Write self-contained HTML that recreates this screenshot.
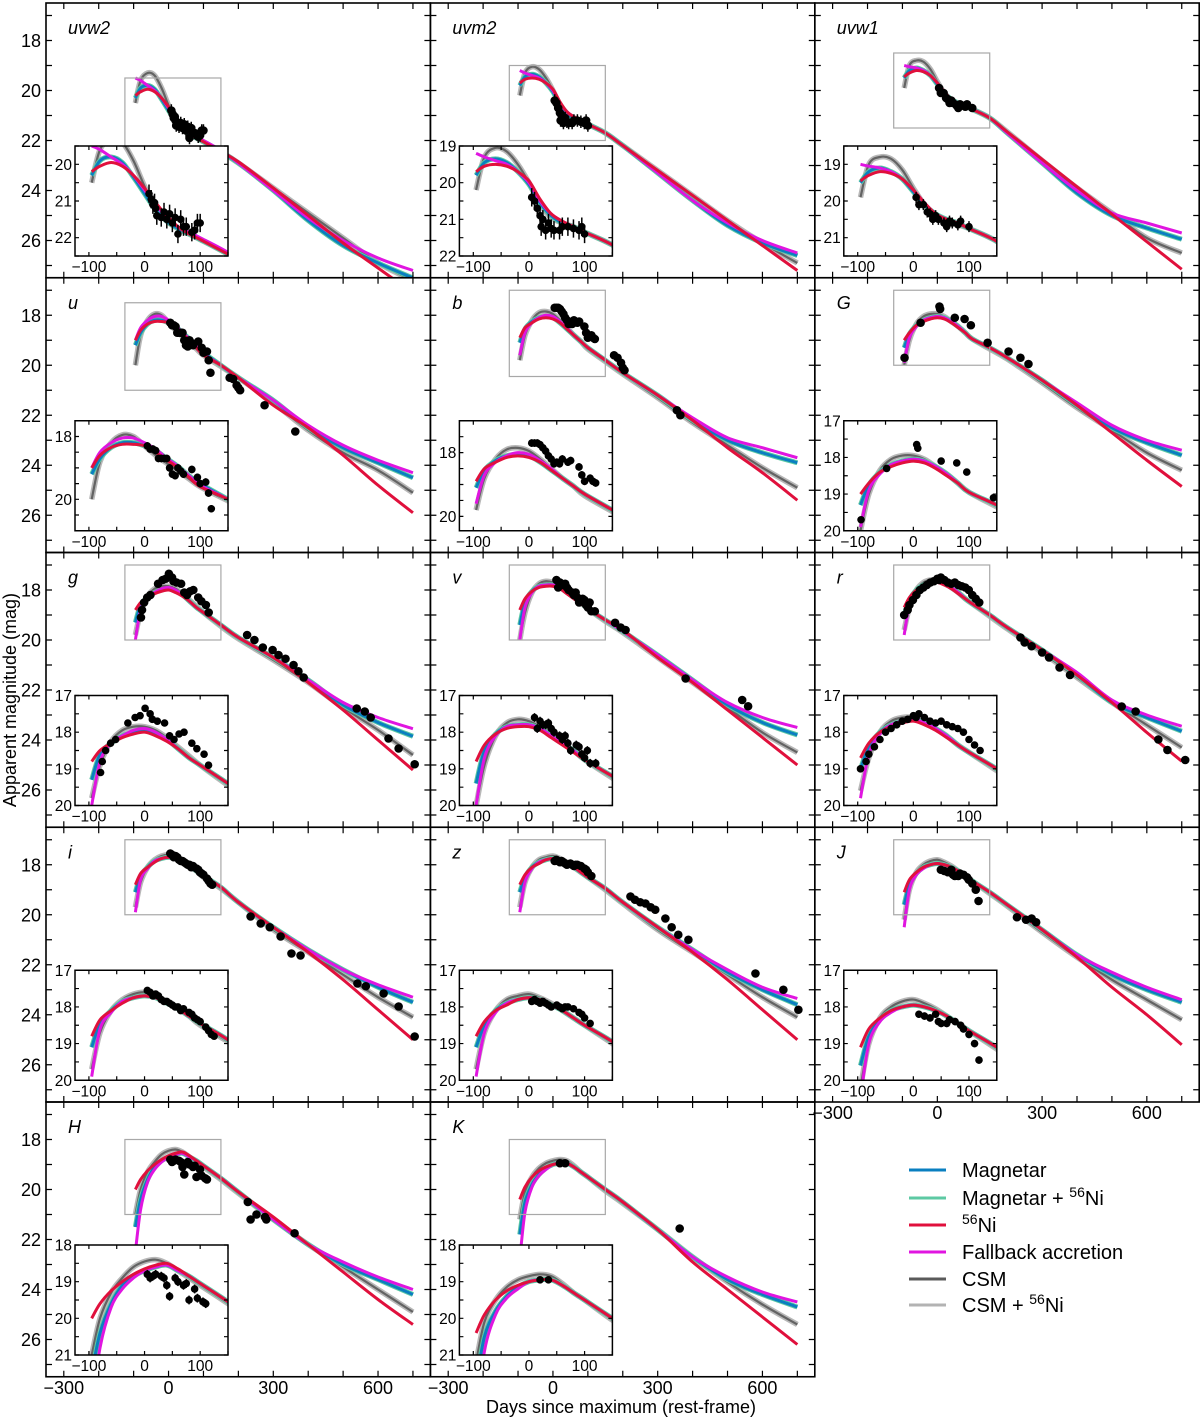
<!DOCTYPE html>
<html><head><meta charset="utf-8"><style>
html,body{margin:0;padding:0;background:#fff;overflow:hidden;width:1200px;height:1418px;}
svg{display:block;font-family:"Liberation Sans","DejaVu Sans",sans-serif;}
</style></head><body>
<svg id="fig" width="1200" height="1418" viewBox="0 0 1200 1418" xmlns="http://www.w3.org/2000/svg" overflow="hidden">
<defs id="defs"></defs>
<g id="panels"></g>
<text x="0" y="0" transform="translate(16,700) rotate(-90)" text-anchor="middle" font-size="18">Apparent magnitude (mag)</text>
<text x="621" y="1413" text-anchor="middle" font-size="18">Days since maximum (rest-frame)</text>
<g font-size="20">
<g><line x1="909" y1="1170" x2="946" y2="1170" stroke="#0a7fc0" stroke-width="3"/><text x="962" y="1177">Magnetar</text></g>
<g><line x1="909" y1="1198" x2="946" y2="1198" stroke="#5dc9a3" stroke-width="3"/><text x="962" y="1205">Magnetar + <tspan font-size="14" dy="-8">56</tspan><tspan dy="8">Ni</tspan></text></g>
<g><line x1="909" y1="1225" x2="946" y2="1225" stroke="#e0103c" stroke-width="3"/><text x="962" y="1232"><tspan font-size="14" dy="-8">56</tspan><tspan dy="8">Ni</tspan></text></g>
<g><line x1="909" y1="1252" x2="946" y2="1252" stroke="#e015e0" stroke-width="3"/><text x="962" y="1259">Fallback accretion</text></g>
<g><line x1="909" y1="1279" x2="946" y2="1279" stroke="#5a5a5a" stroke-width="3"/><text x="962" y="1286">CSM</text></g>
<g><line x1="909" y1="1305" x2="946" y2="1305" stroke="#b3b3b3" stroke-width="3"/><text x="962" y="1312">CSM + <tspan font-size="14" dy="-8">56</tspan><tspan dy="8">Ni</tspan></text></g>
</g>
</svg>
<script>
const DAYS = [-95,-80,-60,-40,-20,0,20,40,60,80,100,150,200,300,400,500,600,700];
const BANDS = ['uvw2','uvm2','uvw1','u','b','G','g','v','r','i','z','J','H','K'];
const INSET_Y = {uvw2:[19.5,22.5],uvm2:[19,22],uvw1:[18.5,21.5],u:[17.5,21],b:[17,20.45],G:[17,20],g:[17,20],v:[17,20],r:[17,20],i:[17,20],z:[17,20],J:[17,20],H:[18,21],K:[18,21]};
const INSET_TICKS = {uvw2:[20,21,22],uvm2:[19,20,21,22],uvw1:[19,20,21],u:[18,20],b:[18,20],G:[17,18,19,20],g:[17,18,19,20],v:[17,18,19,20],r:[17,18,19,20],i:[17,18,19,20],z:[17,18,19,20],J:[17,18,19,20],H:[18,19,20,21],K:[18,19,20,21]};
const MAIN_Y_TICKS = [18,20,22,24,26];
const MAIN_X_TICKS = [-300,0,300,600];
const INSET_X_TICKS = [-100,0,100];
const NI = {
uvw2:[20.2,20.05,19.95,20.05,20.3,20.65,21.05,21.4,21.7,21.9,22.05,22.45,22.85,23.9,25.0,26.1,27.1,28.1],
uvm2:[19.7,19.55,19.5,19.55,19.7,19.95,20.45,20.85,21.05,21.2,21.35,21.7,22.2,23.2,24.2,25.2,26.2,27.2],
uvw1:[19.45,19.3,19.2,19.25,19.4,19.7,20.05,20.35,20.5,20.6,20.75,21.1,21.65,22.75,23.85,24.95,26.05,27.15],
u:[19.0,18.6,18.35,18.25,18.25,18.3,18.5,18.75,19.0,19.3,19.6,20.0,20.5,21.6,22.5,23.6,24.8,25.9],
b:[18.9,18.5,18.3,18.15,18.1,18.15,18.3,18.55,18.8,19.05,19.3,19.8,20.3,21.2,22.2,23.3,24.3,25.4],
G:[19.0,18.7,18.4,18.25,18.15,18.1,18.15,18.3,18.5,18.7,18.95,19.3,19.7,20.6,21.6,22.7,23.8,24.85],
g:[18.8,18.5,18.3,18.15,18.05,18.0,18.1,18.25,18.45,18.7,18.9,19.4,19.9,20.7,21.7,22.8,24.0,25.2],
v:[18.8,18.35,18.05,17.9,17.85,17.85,17.95,18.15,18.35,18.55,18.75,19.2,19.6,20.7,21.7,22.8,23.9,25.0],
r:[18.7,18.3,18.0,17.85,17.75,17.7,17.8,17.95,18.15,18.35,18.55,19.0,19.5,20.4,21.4,22.5,23.7,24.85],
i:[18.8,18.35,18.1,17.9,17.75,17.7,17.75,17.9,18.05,18.25,18.45,18.9,19.5,20.5,21.5,22.6,23.8,25.0],
z:[18.8,18.4,18.1,17.95,17.8,17.75,17.8,17.95,18.1,18.3,18.5,18.95,19.5,20.5,21.5,22.6,23.8,25.0],
J:[19.1,18.6,18.3,18.1,18.0,17.95,18.0,18.1,18.25,18.45,18.65,19.1,19.6,20.6,21.7,22.9,24.0,25.2],
H:[20.0,19.6,19.25,19.0,18.8,18.65,18.55,18.5,18.65,18.85,19.05,19.55,20.1,21.1,22.2,23.3,24.4,25.4],
K:[20.4,19.9,19.5,19.25,19.1,19.0,18.95,18.95,19.1,19.3,19.5,20.0,20.5,21.6,22.9,24.0,25.1,26.2]};
const MAG = {
uvw2:[20.3,19.9,19.8,19.95,20.35,20.8,21.25,21.55,21.75,21.9,22.05,22.45,22.9,24.0,25.2,26.2,26.9,27.5],
uvm2:[19.8,19.45,19.35,19.45,19.7,20.05,20.55,20.9,21.1,21.2,21.35,21.7,22.2,23.3,24.4,25.4,26.1,26.6],
uvw1:[19.5,19.2,19.1,19.2,19.4,19.75,20.1,20.35,20.5,20.6,20.75,21.1,21.7,22.9,24.1,25.0,25.5,25.95],
u:[19.2,18.7,18.35,18.2,18.2,18.3,18.45,18.7,18.95,19.25,19.5,20.0,20.5,21.4,22.5,23.3,23.9,24.5],
b:[19.1,18.55,18.25,18.1,18.05,18.1,18.3,18.55,18.8,19.05,19.3,19.8,20.3,21.2,22.2,23.0,23.5,23.9],
G:[19.3,18.75,18.4,18.2,18.1,18.05,18.1,18.25,18.45,18.7,18.95,19.3,19.7,20.6,21.6,22.5,23.1,23.6],
g:[19.3,18.6,18.3,18.1,18.0,17.95,18.05,18.2,18.45,18.7,18.9,19.4,19.9,20.7,21.6,22.6,23.3,23.85],
v:[19.4,18.5,18.05,17.85,17.8,17.8,17.9,18.1,18.3,18.5,18.75,19.2,19.65,20.6,21.6,22.6,23.3,23.8],
r:[19.0,18.4,18.0,17.8,17.7,17.65,17.75,17.9,18.1,18.35,18.55,19.0,19.5,20.4,21.4,22.5,23.1,23.65],
i:[19.1,18.45,18.1,17.85,17.75,17.7,17.75,17.9,18.05,18.25,18.45,18.9,19.5,20.5,21.4,22.2,22.9,23.5],
z:[19.1,18.5,18.1,17.9,17.8,17.75,17.8,17.95,18.1,18.3,18.5,18.95,19.5,20.5,21.4,22.3,23.0,23.6],
J:[19.6,18.8,18.35,18.1,18.0,17.95,18.0,18.1,18.25,18.45,18.65,19.1,19.6,20.6,21.6,22.4,23.0,23.5],
H:[21.5,20.4,19.6,19.1,18.85,18.7,18.6,18.55,18.7,18.85,19.05,19.55,20.1,21.2,22.2,23.0,23.6,24.2],
K:[21.8,20.5,19.8,19.4,19.15,19.0,18.95,18.95,19.1,19.3,19.5,20.0,20.5,21.6,22.7,23.6,24.2,24.7]};
const FB = {
uvw2:[19.5,19.6,19.8,20.0,20.3,20.7,21.1,21.45,21.7,21.85,22.0,22.4,22.9,24.0,25.1,26.0,26.7,27.2],
uvm2:[19.2,19.3,19.4,19.5,19.7,20.0,20.5,20.85,21.05,21.2,21.35,21.7,22.2,23.3,24.4,25.3,26.0,26.5],
uvw1:[19.0,19.05,19.1,19.2,19.4,19.7,20.05,20.35,20.5,20.6,20.75,21.1,21.7,22.9,24.0,24.9,25.3,25.7],
u:[19.0,18.5,18.2,18.05,18.05,18.2,18.4,18.7,18.95,19.25,19.55,20.0,20.5,21.4,22.4,23.2,23.8,24.3],
b:[19.6,18.7,18.3,18.1,18.0,18.05,18.25,18.5,18.8,19.05,19.3,19.8,20.3,21.2,22.1,22.9,23.3,23.7],
G:[19.9,18.9,18.45,18.2,18.1,18.05,18.1,18.25,18.45,18.7,18.95,19.3,19.7,20.6,21.5,22.4,23.0,23.4],
g:[20.0,18.8,18.3,18.1,17.95,17.9,18.0,18.2,18.45,18.7,18.9,19.4,19.9,20.7,21.6,22.5,23.1,23.55],
v:[20.0,18.7,18.1,17.85,17.8,17.8,17.9,18.1,18.3,18.5,18.75,19.2,19.65,20.6,21.6,22.5,23.1,23.5],
r:[19.8,18.6,18.05,17.8,17.7,17.65,17.75,17.9,18.1,18.35,18.55,19.0,19.5,20.4,21.3,22.4,23.0,23.45],
i:[19.9,18.6,18.15,17.85,17.75,17.7,17.75,17.9,18.05,18.25,18.45,18.9,19.5,20.5,21.4,22.2,22.8,23.3],
z:[19.9,18.7,18.15,17.9,17.8,17.75,17.8,17.95,18.1,18.3,18.5,18.95,19.5,20.5,21.4,22.2,22.9,23.35],
J:[20.5,19.0,18.4,18.15,18.0,17.95,18.0,18.1,18.25,18.45,18.65,19.1,19.6,20.6,21.6,22.3,22.9,23.4],
H:[22.5,20.8,19.7,19.2,18.9,18.7,18.6,18.55,18.7,18.85,19.05,19.55,20.1,21.2,22.2,22.9,23.5,24.0],
K:[22.8,20.9,19.9,19.45,19.2,19.0,18.95,18.95,19.1,19.3,19.5,20.0,20.5,21.6,22.7,23.5,24.1,24.5]};
const CSM = {
uvw2:[20.5,19.6,19.3,19.4,19.9,20.6,21.2,21.55,21.75,21.9,22.05,22.45,22.9,23.9,24.9,25.9,26.9,27.6],
uvm2:[20.2,19.3,19.05,19.15,19.5,20.0,20.6,20.95,21.1,21.2,21.35,21.7,22.2,23.2,24.2,25.2,26.1,26.9],
uvw1:[19.9,19.0,18.8,18.85,19.15,19.65,20.1,20.4,20.55,20.65,20.75,21.1,21.65,22.8,23.9,24.9,25.9,26.5],
u:[20.0,18.8,18.2,17.95,18.0,18.3,18.6,18.85,19.1,19.35,19.6,20.05,20.5,21.5,22.6,23.5,24.2,25.1],
b:[19.8,18.8,18.2,17.9,17.85,17.95,18.2,18.5,18.8,19.05,19.35,19.85,20.35,21.3,22.3,23.2,24.1,24.9],
G:[20.0,19.0,18.35,18.05,17.95,17.95,18.05,18.25,18.45,18.7,18.95,19.35,19.75,20.7,21.7,22.6,23.5,24.2],
g:[19.8,18.9,18.25,17.95,17.85,17.85,17.95,18.15,18.4,18.65,18.9,19.45,19.95,20.8,21.7,22.7,23.6,24.6],
v:[20.0,18.9,18.1,17.75,17.65,17.7,17.85,18.05,18.3,18.5,18.75,19.25,19.7,20.7,21.7,22.7,23.7,24.5],
r:[19.6,18.7,18.0,17.7,17.6,17.6,17.7,17.9,18.1,18.35,18.55,19.05,19.55,20.5,21.5,22.5,23.4,24.3],
i:[19.7,18.7,18.1,17.8,17.65,17.6,17.7,17.85,18.05,18.25,18.5,18.95,19.5,20.6,21.5,22.4,23.3,24.1],
z:[19.7,18.7,18.1,17.8,17.7,17.65,17.75,17.9,18.1,18.3,18.5,19.0,19.55,20.6,21.5,22.4,23.3,24.1],
J:[20.2,19.0,18.3,18.0,17.85,17.8,17.9,18.05,18.25,18.45,18.65,19.15,19.65,20.7,21.7,22.6,23.4,24.2],
H:[21.0,20.0,19.3,18.9,18.6,18.45,18.4,18.5,18.7,18.9,19.1,19.6,20.15,21.2,22.2,23.1,24.0,24.9],
K:[21.2,20.1,19.5,19.15,18.95,18.85,18.8,18.85,19.05,19.3,19.5,20.05,20.55,21.6,22.7,23.7,24.6,25.4]};
const OBS_T = {
uvw2:[8,12,15,18,20,22,30,35,40,45,50,55,60,65,70,75,85,90,95,100],
uvm2:[5,10,15,20,22,25,30,35,40,45,55,60,70,80,90,95,100],
uvw1:[5,10,18,25,30,35,40,45,55,60,65,70,80,85,100],
u:[5,10,15,20,25,30,35,40,45,50,55,60,65,70,85,95,100,110,115,120,175,185,195,200,205,275,363],
b:[5,10,15,20,25,30,35,40,45,50,55,60,70,75,90,95,100,110,115,120,175,185,195,200,205,355,365],
G:[-94,-48,6,8,50,78,96,144,204,238,261],
g:[-79,-76,-70,-61,-52,-30,-17,-8,1,10,14,23,36,45,53,62,71,85,94,107,115,225,246,270,298,315,335,358,372,387,539,562,579,630,659,705],
v:[10,15,20,25,30,35,40,45,55,60,65,70,75,85,90,95,100,105,110,120,178,194,208,380,542,559],
r:[-95,-85,-80,-70,-60,-50,-40,-30,-20,-10,0,5,10,20,30,40,50,60,70,80,90,100,110,120,238,250,270,300,320,350,380,528,568,633,659,710],
i:[5,10,15,20,25,30,35,40,45,50,55,60,65,70,80,85,90,95,100,110,115,120,125,235,264,290,321,352,378,541,565,616,659,705],
z:[5,10,15,20,25,30,35,40,50,55,60,65,70,80,90,95,100,110,222,235,250,265,280,293,322,340,359,388,580,660,703],
J:[10,20,30,40,45,50,60,65,75,85,90,100,110,118,228,254,270,283],
H:[5,10,15,20,30,35,40,45,55,60,70,75,80,90,95,105,110,227,235,252,276,280,361],
K:[20,35,363]};
const OBS_M = {
uvw2:[20.8,20.95,21.1,21.05,21.2,21.4,21.45,21.3,21.5,21.35,21.6,21.45,21.9,21.5,21.7,21.7,21.85,21.8,21.6,21.6],
uvm2:[20.4,20.5,20.7,20.9,21.2,21.0,21.3,21.1,21.25,21.3,21.3,21.2,21.2,21.25,21.3,21.2,21.4],
uvw1:[19.9,20.1,20.1,20.3,20.35,20.5,20.4,20.5,20.6,20.7,20.55,20.6,20.65,20.55,20.7],
u:[18.3,18.4,18.4,18.45,18.7,18.7,18.7,18.7,19.0,19.2,19.25,19.0,19.1,19.2,19.05,19.3,19.5,19.45,19.8,20.3,20.5,20.55,20.8,20.9,21.0,21.6,22.65],
b:[17.7,17.7,17.7,17.75,17.85,17.95,18.1,18.2,18.35,18.3,18.35,18.2,18.3,18.25,18.45,18.7,18.9,18.8,18.9,18.95,19.6,19.7,19.9,20.1,20.2,21.8,22.0],
G:[19.7,18.3,17.65,17.75,18.1,18.15,18.4,19.1,19.45,19.7,19.95],
g:[19.1,18.8,18.5,18.3,18.2,17.75,17.6,17.55,17.35,17.5,17.65,17.7,17.75,18.1,18.2,18.05,18.0,18.3,18.45,18.6,18.9,19.8,20.0,20.3,20.4,20.6,20.75,21.0,21.25,21.5,22.74,22.86,23.1,23.94,24.34,24.97],
v:[17.6,17.9,17.7,17.8,17.8,17.75,17.9,18.0,18.1,18.2,18.1,18.3,18.5,18.35,18.4,18.6,18.7,18.5,18.85,18.85,19.31,19.5,19.6,21.54,22.4,22.65],
r:[19.0,18.8,18.6,18.4,18.2,18.0,17.9,17.8,17.7,17.65,17.55,17.6,17.5,17.6,17.7,17.75,17.7,17.8,17.85,17.9,18.0,18.2,18.35,18.5,19.9,20.1,20.25,20.5,20.7,21.1,21.4,22.66,22.86,23.98,24.4,24.8],
i:[17.55,17.6,17.7,17.65,17.7,17.8,17.85,17.85,17.9,17.95,18.0,18.0,18.1,18.05,18.15,18.2,18.3,18.35,18.4,18.55,18.65,18.75,18.8,20.07,20.35,20.5,20.87,21.55,21.63,22.75,22.86,23.15,23.67,24.87],
z:[17.85,17.8,17.85,17.9,17.85,17.9,17.95,18.0,17.95,18.0,18.05,18.0,18.0,18.05,18.15,18.2,18.3,18.45,19.27,19.4,19.5,19.55,19.7,19.8,20.15,20.5,20.8,21.0,22.35,23.0,23.8],
J:[18.2,18.25,18.3,18.2,18.4,18.45,18.45,18.35,18.4,18.5,18.6,18.75,19.0,19.45,20.1,20.2,20.15,20.3],
H:[18.8,18.9,18.85,18.8,18.85,18.9,19.1,19.4,18.9,19.0,19.1,19.05,19.5,19.2,19.45,19.55,19.6,20.5,21.2,21.0,21.1,21.2,21.75],
K:[18.95,18.95,21.56]};
const ERR = {uvw2:0.25,uvm2:0.25,uvw1:0.15,u:0.12,b:0.12,G:0.08,g:0.08,v:0.12,r:0.06,i:0.06,z:0.06,J:0.1,H:0.12,K:0.06};

const NS='http://www.w3.org/2000/svg';
const svg=document.getElementById('fig'), defs=document.getElementById('defs'), root=document.getElementById('panels');
const COLL=[46,430.4,814.8], PW=384.4, ROWT=[3,277.75,552.5,827.25,1102], PH=274.75;
const XMIN=-351, XMAX=750, YMIN=16.5, YMAX=27.49;
const IXR=[-125,150], IOX=29, IOY=143, IW=153, IH=110;
function el(tag,attrs,parent){const e=document.createElementNS(NS,tag);for(const k in attrs)e.setAttribute(k,attrs[k]);if(parent)parent.appendChild(e);return e;}
function smoothPath(pts){let d='M'+pts[0][0].toFixed(2)+','+pts[0][1].toFixed(2);
 for(let i=0;i<pts.length-1;i++){const p0=pts[Math.max(0,i-1)],p1=pts[i],p2=pts[i+1],p3=pts[Math.min(pts.length-1,i+2)];
  const c1=[p1[0]+(p2[0]-p0[0])/6,p1[1]+(p2[1]-p0[1])/6],c2=[p2[0]-(p3[0]-p1[0])/6,p2[1]-(p3[1]-p1[1])/6];
  d+=' C'+c1[0].toFixed(2)+','+c1[1].toFixed(2)+' '+c2[0].toFixed(2)+','+c2[1].toFixed(2)+' '+p2[0].toFixed(2)+','+p2[1].toFixed(2);}
 return d;}
const LAYERS=[['csm-ni-model',CSM,'#b8b8b8',5.5,1],['csm-model',CSM,'#5a5a5a',2.2,0.9],['magnetar-ni-model',MAG,'#5dc9a3',5,1],['magnetar-model',MAG,'#0a7fc0',3,1],['fallback-model',FB,'#e015e0',3,1],['nickel-model',NI,'#e0103c',3,1]];
function drawModels(g,b,sx,sy){
 for(const L of LAYERS){const arr=L[1][b];const pts=DAYS.map((d,k)=>[sx(d),sy(arr[k])]);
  const p=el('path',{d:smoothPath(pts),fill:'none',stroke:L[2],'stroke-width':L[3],opacity:L[4],'stroke-linejoin':'round'},g);
  
  }}
function drawData(g,b,sx,sy,r){
 const T=OBS_T[b],M=OBS_M[b],e=ERR[b];
 for(let k=0;k<T.length;k++){const x=sx(T[k]),y=sy(M[k]);
  const gg=el('g',{},g);
  
  
  el('line',{x1:x,x2:x,y1:sy(M[k]-e),y2:sy(M[k]+e),stroke:'#000','stroke-width':1.5},gg);
  el('circle',{cx:x,cy:y,r:r,fill:'#000'},gg);}}
function ticks(g,x0,y0,w,h,xs,sx,ys,sy,len){
 let d='';
 for(const t of xs){const x=sx(t);if(x<x0-0.1||x>x0+w+0.1)continue;d+=`M${x},${y0+h}v${-len}M${x},${y0}v${len}`;}
 for(const t of ys){const y=sy(t);if(y<y0-0.1||y>y0+h+0.1)continue;d+=`M${x0},${y}h${len}M${x0+w},${y}h${-len}`;}
 el('path',{d:d,stroke:'#000','stroke-width':1.2,fill:'none'},g);}

BANDS.forEach((b,i)=>{
 const c=i%3,r=Math.floor(i/3),px=COLL[c],py=ROWT[r];
 const sx=d=>px+(d-XMIN)/(XMAX-XMIN)*PW, sy=m=>py+(m-YMIN)/(YMAX-YMIN)*PH;
 const g=el('g',{},root);
 
 
 const cp=el('clipPath',{id:'cm'+i},defs);el('rect',{x:px,y:py,width:PW,height:PH},cp);
 const mg=el('g',{'clip-path':'url(#cm'+i+')'},g);
 drawModels(mg,b,sx,sy);
 const iy=INSET_Y[b];
 const zr=el('rect',{x:sx(IXR[0]),y:sy(iy[0]),width:sx(IXR[1])-sx(IXR[0]),height:sy(iy[1])-sy(iy[0]),fill:'none',stroke:'#a8a8a8','stroke-width':1.2},mg);
 
 
 drawData(mg,b,sx,sy,4.3);
 const ix=px+IOX, iyy=py+IOY;
 const isx=d=>ix+(d-IXR[0])/(IXR[1]-IXR[0])*IW, isy=m=>iyy+(m-iy[0])/(iy[1]-iy[0])*IH;
 const ig=el('g',{},g);
 
 
 el('rect',{x:ix,y:iyy,width:IW,height:IH,fill:'#fff'},ig);
 const cpi=el('clipPath',{id:'ci'+i},defs);el('rect',{x:ix,y:iyy,width:IW,height:IH},cpi);
 const ic=el('g',{'clip-path':'url(#ci'+i+')'},ig);
 drawModels(ic,b,isx,isy);
 drawData(ic,b,isx,isy,3.8);
 const yt=[];for(let v=Math.ceil(iy[0]*2)/2;v<=iy[1]+0.001;v+=0.5)yt.push(v);
 ticks(ig,ix,iyy,IW,IH,[-100,-50,0,50,100,150],isx,yt,isy,4);
 el('rect',{x:ix,y:iyy,width:IW,height:IH,fill:'none',stroke:'#000','stroke-width':1.5},ig);
 for(const t of INSET_TICKS[b]){const tx=el('text',{x:ix-3,y:isy(t)+5.5,'text-anchor':'end','font-size':15.5},ig);tx.textContent=t;
  
  }
 for(const t of INSET_X_TICKS){const tx=el('text',{x:isx(t),y:iyy+IH+16,'text-anchor':'middle','font-size':15.5},ig);tx.textContent=(t<0?'\u2212'+(-t):t);
  
  }
 const mt=[];for(let v=-300;v<=700;v+=100)mt.push(v);
 const myt=[];for(let v=17;v<=27;v++)myt.push(v);
 ticks(g,px,py,PW,PH,mt,sx,myt,sy,6);
 el('rect',{x:px,y:py,width:PW,height:PH,fill:'none',stroke:'#000','stroke-width':1.6},g);
 const bl=el('text',{x:px+22,y:py+31,'font-size':18,'font-style':'italic'},g);bl.textContent=b;
 
 
 if(c===0){for(const t of MAIN_Y_TICKS){const tx=el('text',{x:px-5,y:sy(t)+6.5,'text-anchor':'end','font-size':18},g);tx.textContent=t;
  
  }}
 if(r===4||(r===3&&c===2)){for(const t of MAIN_X_TICKS){const tx=el('text',{x:sx(t),y:py+PH+17,'text-anchor':'middle','font-size':18},g);tx.textContent=(t<0?'\u2212'+(-t):t);
  
  }}
});
</script>
</body></html>
